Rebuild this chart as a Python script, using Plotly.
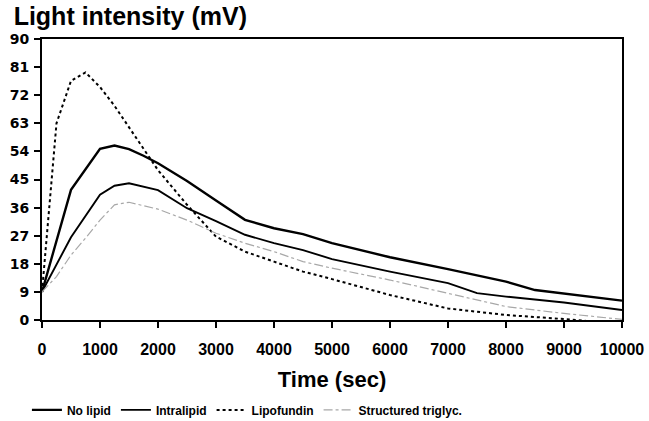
import plotly.graph_objects as go

# --- data ---
t_nolipid = [0, 500, 1000, 1250, 1500, 1750, 2000, 2500, 3000, 3500, 4000, 4500, 5000, 6000, 7000, 8000, 8500, 9000, 10000]
y_nolipid = [9, 41.7, 54.8, 55.9, 54.7, 52.6, 50.2, 44.5, 38.3, 32.1, 29.4, 27.5, 24.6, 20.1, 16.3, 12.3, 9.6, 8.5, 6.2]

t_intra = [0, 500, 1000, 1250, 1500, 2000, 2500, 3000, 3500, 4000, 4500, 5000, 6000, 7000, 7500, 8000, 9000, 10000]
y_intra = [9, 26.5, 40.1, 43.0, 43.8, 41.6, 35.8, 31.7, 27.3, 24.6, 22.4, 19.5, 15.5, 11.8, 8.6, 7.5, 5.6, 3.2]

t_lipo = [0, 250, 500, 750, 1000, 1250, 2000, 2500, 3000, 3500, 4000, 4500, 5000, 6000, 7000, 8000, 9000, 9500]
y_lipo = [9, 63, 76.6, 79.3, 74.6, 68.6, 48.0, 36.9, 26.7, 21.9, 18.7, 15.5, 13.1, 8.0, 3.7, 1.6, 0.3, -0.5]

t_struct = [0, 250, 500, 750, 1000, 1250, 1500, 2000, 2500, 3000, 3500, 4000, 4500, 5000, 6000, 7000, 8000, 9000, 10000]
y_struct = [9, 13.9, 20.8, 26.2, 32.0, 36.9, 37.7, 35.5, 32.0, 27.8, 24.6, 21.9, 18.7, 16.6, 12.8, 8.6, 4.3, 2.1, 0.2]

y_ticks = [0, 9, 18, 27, 36, 45, 54, 63, 72, 81, 90]
x_ticks = [0, 1000, 2000, 3000, 4000, 5000, 6000, 7000, 8000, 9000, 10000]

FONT = "Liberation Sans"

fig = go.Figure()
fig.add_trace(go.Scatter(x=t_nolipid, y=y_nolipid, mode="lines", name="No lipid",
                         line=dict(color="black", width=2.4)))
fig.add_trace(go.Scatter(x=t_intra, y=y_intra, mode="lines", name="Intralipid",
                         line=dict(color="black", width=1.9)))
fig.add_trace(go.Scatter(x=t_lipo, y=y_lipo, mode="lines", name="Lipofundin",
                         line=dict(color="black", width=2, dash="dot")))
fig.add_trace(go.Scatter(x=t_struct, y=y_struct, mode="lines", name="Structured triglyc.",
                         line=dict(color="#a8a8a8", width=1.2, dash="dashdot")))

fig.update_layout(
    width=649, height=421, autosize=False,
    paper_bgcolor="white", plot_bgcolor="white",
    margin=dict(l=42, r=27, t=39, b=101, autoexpand=False),
    font=dict(family=FONT, color="black"),
    title=dict(text="<b>Light intensity (mV)</b>", x=0.021, xref="container", xanchor="left",
               y=0.962, yref="container", yanchor="middle", pad=dict(l=0, t=0, b=0, r=0),
               font=dict(family=FONT, size=25, color="black")),
    showlegend=True,
    legend=dict(orientation="h", x=-0.026, xanchor="left", y=-0.32, yanchor="middle",
                font=dict(family=FONT, size=12, color="black", weight="bold"),
                itemwidth=30, tracegroupgap=0, bgcolor="rgba(0,0,0,0)"),
)

fig.update_xaxes(range=[0, 10000], tickvals=x_ticks, ticktext=[str(v) for v in x_ticks],
                 automargin=False,
                 showgrid=False, zeroline=False, showline=True, linecolor="black", linewidth=2,
                 mirror=True, ticks="outside", ticklen=6, tickwidth=1.5, tickcolor="black",
                 ticklabelstandoff=8,
                 tickfont=dict(family=FONT, size=16, weight="bold"),
                 title=dict(text="<b>Time (sec)</b>", font=dict(family=FONT, size=22), standoff=14))
fig.update_yaxes(range=[0, 90], tickvals=y_ticks, ticktext=[str(v) for v in y_ticks],
                 automargin=False,
                 showgrid=False, zeroline=False, showline=True, linecolor="black", linewidth=2,
                 mirror=True, ticks="outside", ticklen=6, tickwidth=1.5, tickcolor="black",
                 ticklabelstandoff=2,
                 tickfont=dict(family="DejaVu Sans", size=14, weight="bold"))

fig.write_html("out.html", config={"displayModeBar": False},
               post_script="document.body.style.margin='0';")
